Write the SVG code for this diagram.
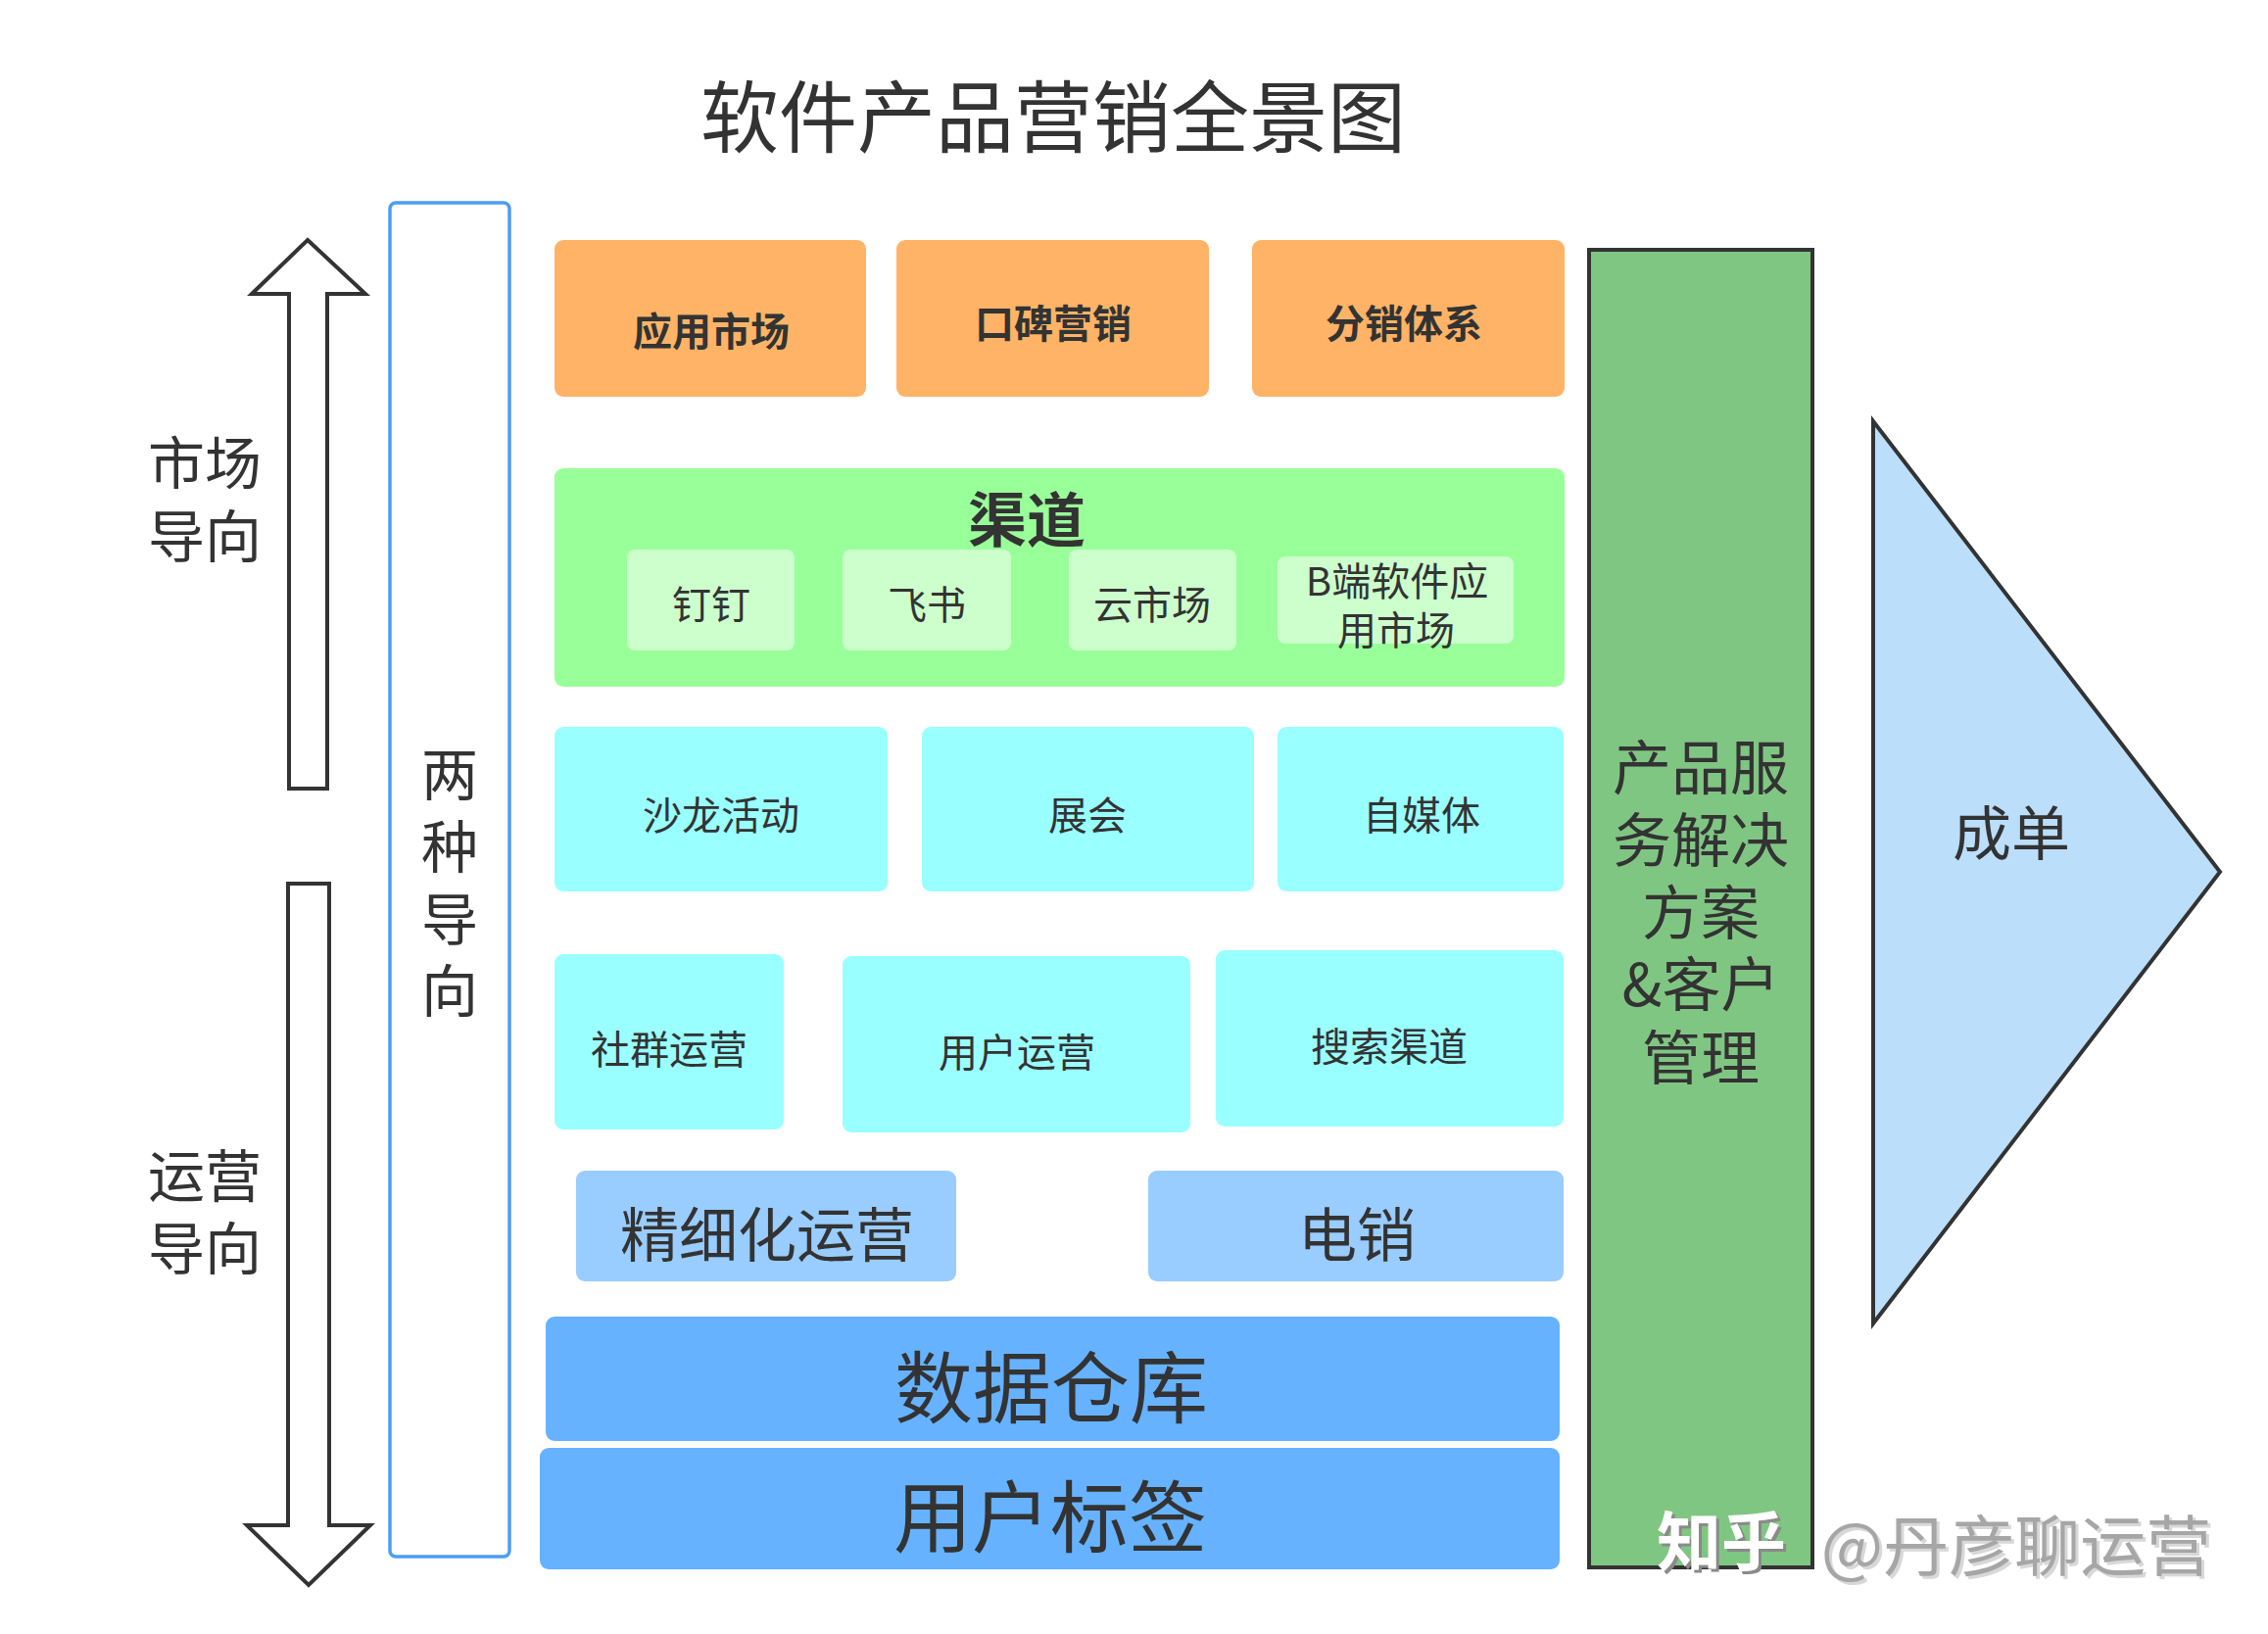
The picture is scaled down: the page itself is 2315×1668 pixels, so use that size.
<svg xmlns="http://www.w3.org/2000/svg" width="2315" height="1668" viewBox="0 0 2315 1668">
<style>
text{font-family:"Noto Sans CJK SC","Noto Sans",sans-serif;fill:#333333;text-anchor:middle;dominant-baseline:central}
.b{font-weight:bold}
.f40{font-size:40px}
.f58{font-size:58px}
.f60{font-size:60px}
.f80{font-size:80px}
.orange{fill:#FFB366}
.green{fill:#99FF99}
.lgreen{fill:#CCFFCC}
.cyan{fill:#99FFFF}
.lblue{fill:#99CCFF}
.blue{fill:#66B2FF}
.arrow{fill:#FFFFFF;stroke:#333333;stroke-width:4;stroke-linejoin:miter}
</style>
<rect width="2315" height="1668" fill="#FFFFFF"/>
<g id="title"><text class="f80" x="1075" y="114">软件产品营销全景图</text></g>
<g id="connectors">
<polygon class="arrow" points="314,245 373,300 334,300 334,805 295,805 295,300 257,300"/>
<polygon class="arrow" points="294,902 336,902 336,1557 378,1557 315,1618 252,1557 294,1557"/>
</g>
<g id="market-label"><text class="f58" x="209" y="469">市场</text><text class="f58" x="209" y="544">导向</text></g>
<g id="ops-label"><text class="f58" x="209" y="1197">运营</text><text class="f58" x="209" y="1271">导向</text></g>
<g id="two-directions">
<rect x="398" y="207" width="122" height="1382" rx="6" fill="#FFFFFF" stroke="#4C9EF2" stroke-width="3.5"/>
<text class="f58" x="459" y="787">两</text><text class="f58" x="459" y="861">种</text><text class="f58" x="459" y="935">导</text><text class="f58" x="459" y="1008">向</text>
</g>
<g id="app-market"><rect class="orange" x="566" y="245" width="318" height="160" rx="9"/><text class="f40 b" x="726" y="336">应用市场</text></g>
<g id="word-of-mouth"><rect class="orange" x="915" y="245" width="319" height="160" rx="9"/><text class="f40 b" x="1075" y="328">口碑营销</text></g>
<g id="distribution"><rect class="orange" x="1278" y="245" width="319" height="160" rx="9"/><text class="f40 b" x="1433" y="328">分销体系</text></g>
<g id="channels">
<rect class="green" x="566" y="478" width="1031" height="223" rx="9"/>
<text class="f60 b" x="1048" y="526">渠道</text>
</g>
<g id="dingtalk"><rect class="lgreen" x="640" y="561" width="171" height="103" rx="8"/><text class="f40" x="726" y="615">钉钉</text></g>
<g id="feishu"><rect class="lgreen" x="860" y="561" width="172" height="103" rx="8"/><text class="f40" x="946" y="615">飞书</text></g>
<g id="cloud-market"><rect class="lgreen" x="1091" y="561" width="171" height="103" rx="8"/><text class="f40" x="1176" y="615">云市场</text></g>
<g id="b2b-market"><rect class="lgreen" x="1304" y="568" width="241" height="89" rx="8"/><text class="f40" x="1426" y="591">B端软件应</text><text class="f40" x="1425" y="641">用市场</text></g>
<g id="salon"><rect class="cyan" x="566" y="742" width="340" height="168" rx="9"/><text class="f40" x="736" y="830">沙龙活动</text></g>
<g id="exhibition"><rect class="cyan" x="941" y="742" width="339" height="168" rx="9"/><text class="f40" x="1110" y="830">展会</text></g>
<g id="self-media"><rect class="cyan" x="1304" y="742" width="292" height="168" rx="9"/><text class="f40" x="1451" y="830">自媒体</text></g>
<g id="community"><rect class="cyan" x="566" y="974" width="234" height="179" rx="9"/><text class="f40" x="683" y="1069">社群运营</text></g>
<g id="user-ops"><rect class="cyan" x="860" y="976" width="355" height="180" rx="9"/><text class="f40" x="1038" y="1072">用户运营</text></g>
<g id="search"><rect class="cyan" x="1241" y="970" width="355" height="180" rx="9"/><text class="f40" x="1418" y="1066">搜索渠道</text></g>
<g id="fine-ops"><rect class="lblue" x="588" y="1195" width="388" height="113" rx="9"/><text class="f60" x="783" y="1256">精细化运营</text></g>
<g id="telesales"><rect class="lblue" x="1172" y="1195" width="424" height="113" rx="9"/><text class="f60" x="1385" y="1256">电销</text></g>
<g id="data-warehouse"><rect class="blue" x="557" y="1344" width="1035" height="127" rx="9"/><text class="f80" x="1073" y="1411">数据仓库</text></g>
<g id="user-tags"><rect class="blue" x="551" y="1478" width="1041" height="124" rx="9"/><text class="f80" x="1072" y="1543">用户标签</text></g>
<g id="solution">
<rect x="1622" y="255" width="228" height="1345" fill="#80C683" stroke="#333333" stroke-width="4"/>
<text class="f60" x="1736" y="779">产品服</text>
<text class="f60" x="1736" y="853">务解决</text>
<text class="f60" x="1736" y="927">方案</text>
<text class="f60" x="1736" y="1000">&amp;客户</text>
<text class="f60" x="1736" y="1075">管理</text>
</g>
<g id="deal">
<polygon points="1912,430 2266,890 1912,1351" fill="#BBDEFB" stroke="#333333" stroke-width="4" stroke-linejoin="miter"/>
<text class="f60" x="2053" y="846">成单</text>
</g>
<g id="watermark">
<text x="1760" y="1572" style="font-size:66px;font-weight:bold;fill:#8a8a8a">知乎</text>
<text x="1757" y="1569" style="font-size:66px;font-weight:bold;fill:#FFFFFF">知乎</text>
<text x="2061" y="1576" style="font-size:67px;fill:#d8d8d8">@丹彦聊运营</text>
<text x="2058" y="1573" style="font-size:67px;fill:#a6a6a6">@丹彦聊运营</text>
</g>
</svg>
